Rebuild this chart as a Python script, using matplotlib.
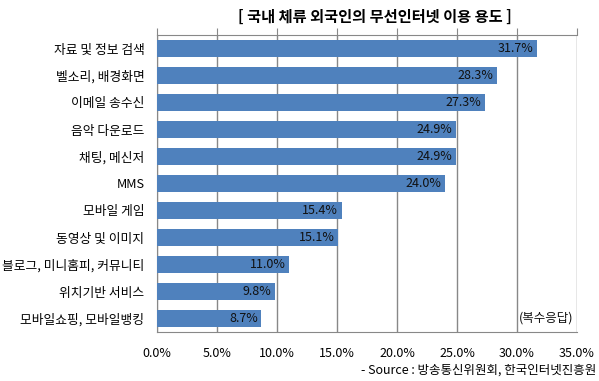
import matplotlib
matplotlib.use("Agg")
import matplotlib.pyplot as plt
import numpy as np

plt.rcParams['font.family'] = ['Noto Sans CJK KR', 'DejaVu Sans']

categories = ["자료 및 정보 검색", "벨소리, 배경화면", "이메일 송수신", "음악 다운로드",
              "채팅, 메신저", "MMS", "모바일 게임", "동영상 및 이미지",
              "블로그, 미니홈피, 커뮤니티", "위치기반 서비스", "모바일쇼핑, 모바일뱅킹"]
values = [31.7, 28.3, 27.3, 24.9, 24.9, 24.0, 15.4, 15.1, 11.0, 9.8, 8.7]
xticks = [0, 5, 10, 15, 20, 25, 30, 35]
xticklabels = ["0.0%", "5.0%", "10.0%", "15.0%", "20.0%", "25.0%", "30.0%", "35.0%"]

fig = plt.figure(figsize=(5.99, 3.81), dpi=100)
ax = fig.add_axes([157/599, 49/381, 420/599, 297/381])

y = np.arange(len(categories))
ax.barh(y, values, height=0.6, color="#4F81BD", zorder=3)
for yi, v in zip(y, values):
    ax.text(v - 0.3, yi, f"{v:.1f}%", ha="right", va="center", fontsize=9,
            color="#111111", zorder=4)

ax.set_ylim(len(categories) - 0.5, -0.5)
ax.set_xlim(0, 35)
ax.set_yticks(y)
ax.set_yticklabels(categories, fontsize=9.2)
ax.tick_params(axis="y", length=0, pad=9)
ax.set_xticks(xticks)
ax.set_xticklabels(xticklabels, fontsize=9)
ax.tick_params(axis="x", bottom=False, top=True, length=5, color="#888888",
               labelbottom=True, labeltop=False, pad=6)
ax.grid(axis="x", color="#888888", linewidth=1, zorder=0)
for s in ax.spines.values():
    s.set_color("#888888")
ax.spines["right"].set_visible(False)

fig.text(375/599, 1 - 17/381, "[ 국내 체류 외국인의 무선인터넷 이용 용도 ]",
         ha="center", va="center", fontsize=11, fontweight="bold")
ax.text(34.7, 10, "(복수응답)", ha="right", va="center", fontsize=9, color="#111111")
fig.text(596/599, 1 - 370/381, "- Source : 방송통신위원회, 한국인터넷진흥원",
         ha="right", va="center", fontsize=9)

fig.savefig("out.png", dpi=100)
